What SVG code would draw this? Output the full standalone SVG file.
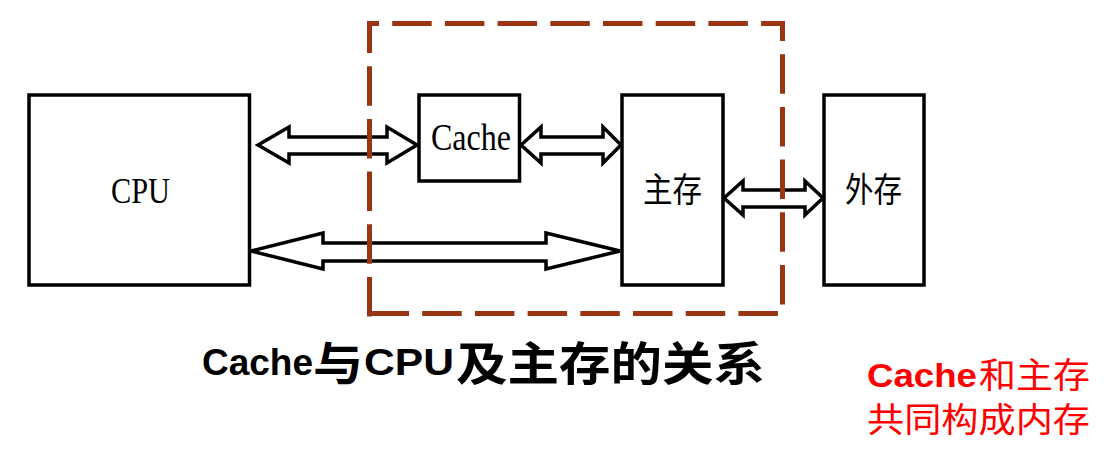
<svg xmlns="http://www.w3.org/2000/svg" width="1116" height="451" viewBox="0 0 1116 451">
<style>
.box{fill:#fff;stroke:#000;stroke-width:3.5}
.arr{fill:#fff;stroke:#000;stroke-width:3.5;stroke-linejoin:miter}
.dash{stroke:#9a3412;stroke-width:5;fill:none;stroke-dasharray:39.5 13.2}
.serif{font-family:"Liberation Serif","Noto Sans CJK SC",serif;fill:#000}
.cjk{font-family:"Noto Sans CJK SC",sans-serif;fill:#000}
.title{font-weight:bold}
.red{fill:#ff0000}
</style>
<rect width="1116" height="451" fill="#fff"/>
<g id="cpu">
<rect class="box" x="29" y="95" width="220.5" height="190"/>
<text class="serif" x="111" y="203" font-size="35" textLength="59" lengthAdjust="spacingAndGlyphs">CPU</text>
</g>
<g id="cache">
<rect class="box" x="419" y="95" width="100.5" height="86"/>
<text class="serif" x="431" y="150" font-size="38" textLength="80" lengthAdjust="spacingAndGlyphs">Cache</text>
</g>
<g id="mainmem">
<rect class="box" x="622" y="95" width="101" height="190"/>
<text class="cjk" x="643" y="202" font-size="34" textLength="59" lengthAdjust="spacingAndGlyphs">主存</text>
</g>
<g id="extmem">
<rect class="box" x="824" y="95" width="100" height="190"/>
<text class="cjk" x="845" y="202" font-size="34" textLength="57" lengthAdjust="spacingAndGlyphs">外存</text>
</g>
<g id="connectors">
<path class="arr" d="M258,145 L289,127 L289,137 L387,137 L387,127 L417,145 L387,163 L387,154 L289,154 L289,163 Z"/>
<path class="arr" d="M521,145 L541,127 L541,137 L603,137 L603,127 L621,145 L603,163 L603,154 L541,154 L541,163 Z"/>
<path class="arr" d="M251,251 L323,233 L323,243 L546,243 L546,233 L620,251 L546,269 L546,261 L323,261 L323,269 Z"/>
<path class="arr" d="M724,198 L743,181 L743,190 L805,190 L805,181 L823,198 L805,215 L805,207 L743,207 L743,215 Z"/>
</g>
<g id="memory-boundary">
<line class="dash" x1="367" y1="23.5" x2="785" y2="23.5" stroke-dashoffset="27.5"/>
<line class="dash" x1="369.5" y1="21" x2="369.5" y2="316.5" stroke-dashoffset="7.5"/>
<line class="dash" x1="782.5" y1="21" x2="782.5" y2="316" stroke-dashoffset="19.5"/>
<line class="dash" x1="369.5" y1="313.5" x2="785" y2="313.5"/>
</g>
<g id="caption">
<text class="title" x="202" y="375" font-family="'Liberation Sans',sans-serif" font-size="36" textLength="111" lengthAdjust="spacingAndGlyphs">Cache</text>
<text class="cjk title" x="313" y="380" font-size="46" textLength="50" lengthAdjust="spacingAndGlyphs">与</text>
<text class="title" x="364" y="375" font-family="'Liberation Sans',sans-serif" font-size="36" textLength="90" lengthAdjust="spacingAndGlyphs">CPU</text>
<text class="cjk title" x="456" y="380" font-size="46" textLength="309" lengthAdjust="spacingAndGlyphs">及主存的关系</text>
</g>
<g id="note">
<text class="red" x="867" y="387" font-family="'Liberation Sans',sans-serif" font-weight="bold" font-size="34" textLength="110" lengthAdjust="spacingAndGlyphs">Cache</text>
<text class="red" x="979" y="388" font-family="'Noto Sans CJK SC',sans-serif" font-size="35" textLength="111" lengthAdjust="spacingAndGlyphs">和主存</text>
<text class="red" x="867" y="432" font-family="'Noto Sans CJK SC',sans-serif" font-size="34" textLength="223" lengthAdjust="spacingAndGlyphs">共同构成内存</text>
</g>
</svg>
